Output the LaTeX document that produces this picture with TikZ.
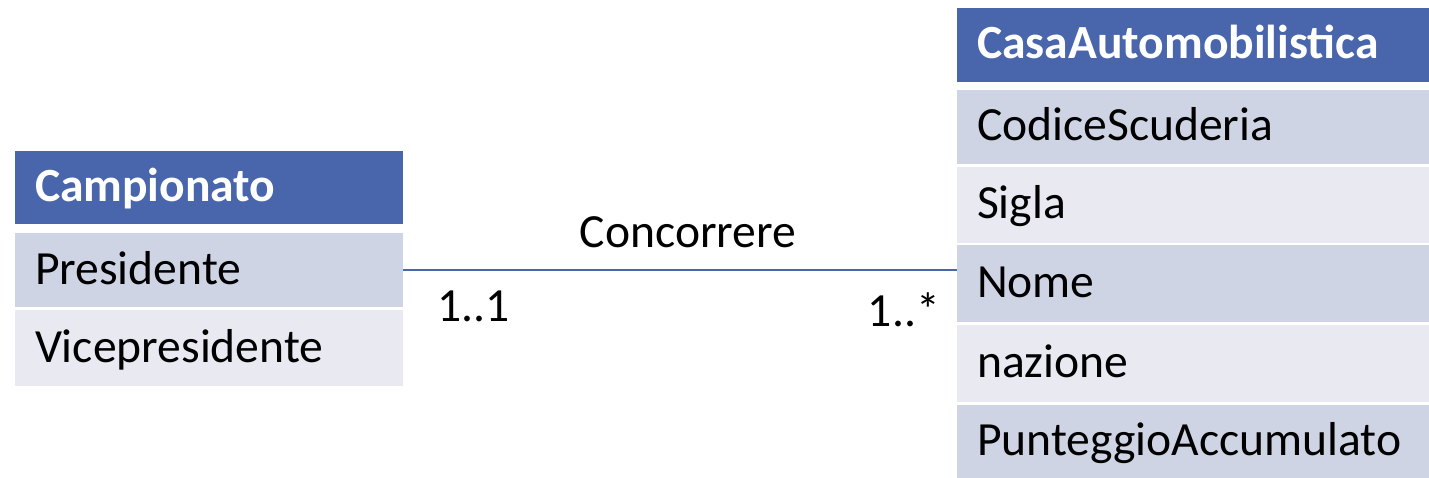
\documentclass[tikz,border=0pt]{standalone}
\usepackage{fontspec}
\setmainfont{Carlito}
\definecolor{headblue}{HTML}{4966AC}
\definecolor{rowdark}{HTML}{CFD4E5}
\definecolor{rowlight}{HTML}{E8E9F1}
\tikzset{
	cell/.style={rectangle, inner xsep=20pt, inner ysep=0pt, align=left,
		text height=37pt, text depth=9pt, font=\fontsize{47.6}{56}\selectfont},
	leftcell/.style={cell, text width=348pt, minimum height=#1},
	rightcell/.style={cell, text width=432pt, minimum height=#1},
	classhead/.style={fill=headblue, text=white, font=\fontsize{47.6}{56}\selectfont\bfseries},
	attrdark/.style={fill=rowdark},
	attrlight/.style={fill=rowlight},
	assoc/.style={draw=headblue, line width=1.5pt},
	role/.style={inner sep=0pt, font=\fontsize{47.6}{56}\selectfont}
}
\begin{document}
\begin{tikzpicture}[x=1pt, y=-1pt]
				\useasboundingbox (0,0) rectangle (1429,478);

				\node (Campionato) [leftcell=73pt, classhead] at (209, 187.5) {Campionato};
				\node (Presidente) [leftcell=74pt, attrdark] at (209, 270) {Presidente};
				\node (Vicepresidente) [leftcell=76pt, attrlight] at (209, 348) {Vicepresidente};

				\node (CasaAutomobilistica) [rightcell=74pt, classhead] at (1193, 45) {CasaAutomobilistica};
				\node (CodiceScuderia) [rightcell=74pt, attrdark] at (1193, 127) {CodiceScuderia};
				\node (Sigla) [rightcell=76pt, attrlight] at (1193, 205) {Sigla};
				\node (Nome) [rightcell=77pt, attrdark] at (1193, 283.5) {Nome};
				\node (nazione) [rightcell=77pt, attrlight] at (1193, 363.5) {nazione};
				\node (PunteggioAccumulato) [rightcell=73pt, attrdark] at (1193, 441.5) {PunteggioAccumulato};

				\draw [assoc] (Presidente.east) -- (Presidente.east -| Nome.west);

				\node (Concorrere) [role, anchor=base] at (688, 248) {Concorrere};
				\node (MolCampionato) [role, anchor=base west] at (437, 321) {1..1};
				\node (MolCasa) [role, anchor=base east] at (940, 326) {1..*};
			\end{tikzpicture}
\end{document}
